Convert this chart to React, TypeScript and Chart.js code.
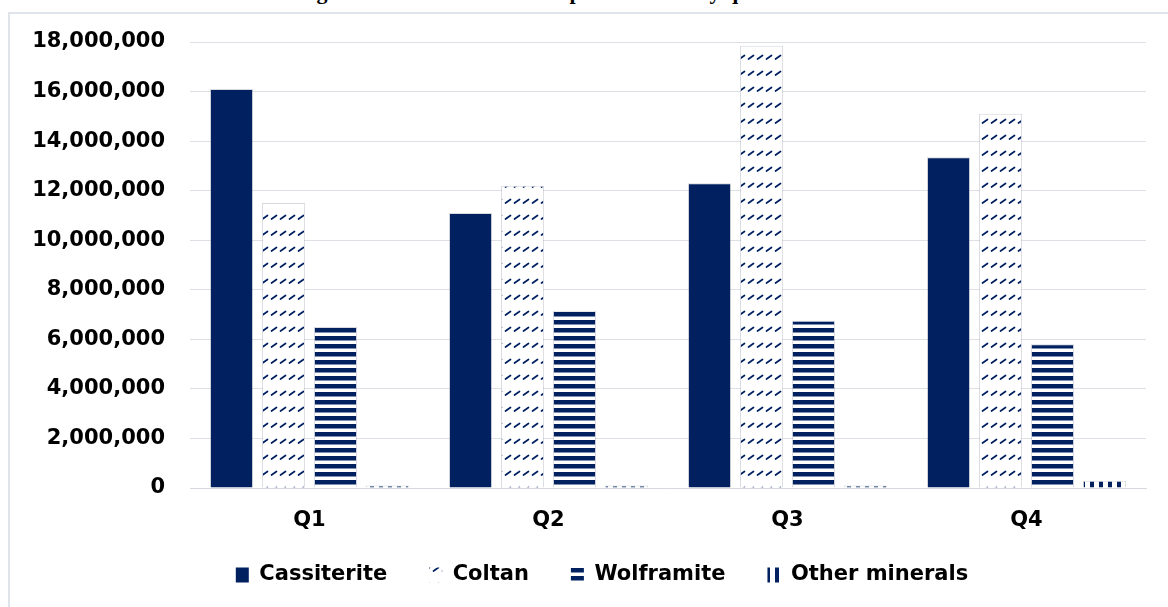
import React, { useEffect, useRef } from "react";
import Chart from "chart.js/auto";

const categories = ["Q1", "Q2", "Q3", "Q4"];
const cassiterite = [16100000, 11100000, 12300000, 13350000];
const coltan = [11500000, 12200000, 17850000, 15100000];
const wolframite = [6500000, 7150000, 6750000, 5800000];
const otherMinerals = [100000, 100000, 100000, 290000];
const seriesNames = ["Cassiterite", "Coltan", "Wolframite", "Other minerals"];
const yMax = 18000000;
const yStep = 2000000;
const titleText = "Figure 3: Value of mineral exports in USD by quarter in 2023";

const NAVY = "#002060";

function makePattern(kind: string): CanvasPattern | string {
  const t = document.createElement("canvas");
  const ctx = t.getContext("2d");
  if (!ctx) return NAVY;
  if (kind === "coltan") {
    t.width = 9;
    t.height = 16;
    ctx.fillStyle = "#ffffff";
    ctx.fillRect(0, 0, 9, 16);
    ctx.strokeStyle = NAVY;
    ctx.lineWidth = 1.7;
    ctx.lineCap = "round";
    ctx.beginPath();
    ctx.moveTo(1.5, 11);
    ctx.lineTo(6.5, 7.5);
    ctx.stroke();
  } else if (kind === "wolf") {
    t.width = 4;
    t.height = 8;
    ctx.fillStyle = "#ffffff";
    ctx.fillRect(0, 0, 4, 8);
    ctx.fillStyle = NAVY;
    ctx.fillRect(0, 0, 4, 4.5);
  } else {
    t.width = 9;
    t.height = 4;
    ctx.fillStyle = "#ffffff";
    ctx.fillRect(0, 0, 9, 4);
    ctx.fillStyle = NAVY;
    ctx.fillRect(1, 0, 4, 4);
  }
  const main = document.createElement("canvas").getContext("2d");
  const p = main ? main.createPattern(t, "repeat") : null;
  return p || NAVY;
}

// moves the legend row to where the reference shows it
const legendPlace = {
  id: "legendPlace",
  afterLayout(chart: any) {
    const L = chart.legend;
    if (!L) return;
    const h = L.bottom - L.top;
    L.top = 522.5;
    L.bottom = L.top + h;
    L.left += 29;
    L.right += 29;
  },
};

export default function App() {
  const ref = useRef<HTMLCanvasElement | null>(null);

  useEffect(() => {
    if (!ref.current) return;
    const font = { family: "'DejaVu Sans', sans-serif", weight: "bold" as const, size: 21 };
    const fills = [NAVY, makePattern("coltan"), makePattern("wolf"), makePattern("other")];
    const values = [cassiterite, coltan, wolframite, otherMinerals];
    const chart = new Chart(ref.current, {
      type: "bar",
      data: {
        labels: categories,
        datasets: values.map((v, i) => ({
          label: seriesNames[i],
          data: v,
          backgroundColor: fills[i] as any,
          borderColor: "rgba(110,120,135,0.28)",
          borderWidth: 1,
          categoryPercentage: 0.87,
          barPercentage: 0.83,
        })),
      },
      plugins: [legendPlace],
      options: {
        animation: false,
        responsive: true,
        maintainAspectRatio: false,
        layout: { padding: { left: 0, right: 22, top: 42, bottom: 0 } },
        plugins: {
          legend: {
            position: "bottom",
            labels: {
              font,
              color: "#000",
              boxWidth: 13,
              boxHeight: 15,
              padding: 42,
              generateLabels: (c: any) =>
                (Chart.defaults.plugins.legend.labels as any)
                  .generateLabels(c)
                  .map((l: any) => ({ ...l, lineWidth: 0 })),
            },
          },
          tooltip: { enabled: false },
        },
        scales: {
          x: {
            grid: { display: false, drawTicks: false },
            border: { display: true, color: "#d5d9df", width: 1 },
            ticks: { font, color: "#000", padding: 20 },
            afterFit: (s: any) => {
              s.height = 46;
            },
          },
          y: {
            min: 0,
            max: yMax,
            ticks: {
              stepSize: yStep,
              font,
              color: "#000",
              padding: 25,
              callback: (v: any) => Number(v).toLocaleString("en-US"),
            },
            grid: { color: "#dde1e6", drawTicks: false, lineWidth: 1 },
            border: { display: false },
            afterFit: (s: any) => {
              s.width = 190;
            },
          },
        },
      },
    });
    return () => chart.destroy();
  }, []);

  return (
    <div
      style={{
        position: "absolute",
        left: 0,
        top: 0,
        width: 1168,
        height: 607,
        overflow: "hidden",
        background: "#fff",
      }}
    >
      <div
        style={{
          position: "absolute",
          left: 0,
          top: -19,
          width: 1168,
          textAlign: "center",
          fontFamily: "'Liberation Serif', serif",
          fontWeight: "bold",
          fontSize: 22,
          lineHeight: "22px",
          color: "#000",
          whiteSpace: "nowrap",
        }}
      >
        {titleText}
      </div>
      <div
        style={{
          position: "absolute",
          left: 8,
          top: 12,
          width: 1200,
          height: 700,
          border: "2px solid #dfe4ea",
          boxSizing: "border-box",
        }}
      />
      <div style={{ position: "absolute", left: 0, top: 0, width: 1168, height: 607 }}>
        <canvas ref={ref} style={{ display: "block", width: "100%", height: "100%" }} />
      </div>
    </div>
  );
}
